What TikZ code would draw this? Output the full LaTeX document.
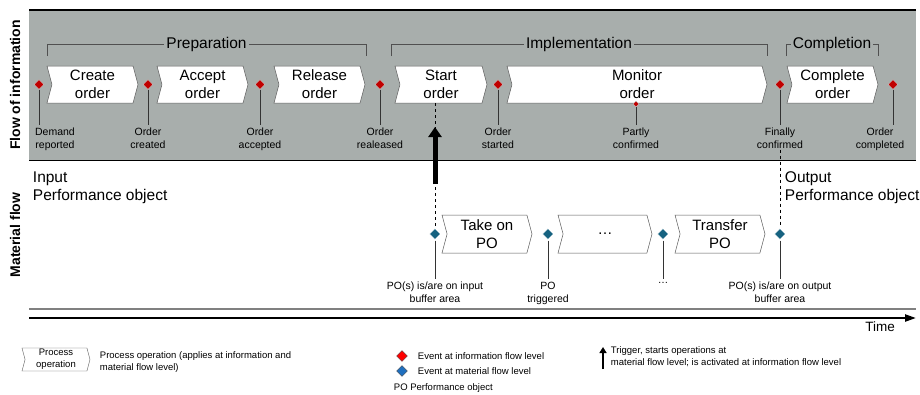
\documentclass[tikz,border=0pt]{standalone}
\usepackage{fontspec}
\setmainfont{Liberation Sans}
\usetikzlibrary{shapes.symbols,shapes.geometric,arrows.meta}

\definecolor{bandgray}{RGB}{168,174,172}
\definecolor{infored}{RGB}{192,0,0}
\definecolor{matblue}{RGB}{22,98,128}
\definecolor{legred}{RGB}{255,0,0}
\definecolor{legblue}{RGB}{31,111,191}
\definecolor{bracketgray}{RGB}{80,80,80}

\tikzset{
  procop/.style={signal, signal from=west, signal to=east, signal pointer angle=150,
    draw=gray!70!black, fill=white, line width=0.5pt, inner sep=0pt,
    minimum height=37, align=center, font=\fontsize{15}{18}\selectfont},
  evinfo/.style={diamond, fill=infored, draw=white!60!gray, line width=0.4pt,
    inner sep=0pt, minimum width=10, minimum height=10},
  evmat/.style={diamond, fill=matblue, draw=white, line width=1pt,
    inner sep=0pt, minimum width=12, minimum height=12},
  evlabel/.style={anchor=north, align=center, inner sep=0.75pt,
    font=\fontsize{10.5}{13}\selectfont},
  evline/.style={draw=black!80, line width=0.7pt},
  phase/.style={draw=bracketgray, line width=0.8pt},
  phasetext/.style={fill=bandgray, inner sep=2pt, font=\fontsize{15.5}{18}\selectfont},
  sidetext/.style={rotate=90, font=\bfseries\fontsize{14}{16}\selectfont},
  pobject/.style={anchor=north west, align=left, inner sep=0.75pt,
    font=\fontsize{15.5}{18}\selectfont},
  legtext/.style={anchor=west, align=left, inner sep=0.75pt,
    font=\fontsize{9.5}{12}\selectfont},
}

\begin{document}
\begin{tikzpicture}[x=1pt,y=1pt,yscale=-1,xscale=1]
\useasboundingbox (0,0) rectangle (920,394);

%Shape: information band
\fill[bandgray] (29,10) rectangle (916,160);
\draw[line width=1.8pt] (29,10) -- (916,10);
\draw[line width=1.8pt] (29,160.5) -- (916,160.5);
%Straight Lines: bottom border and time axis
\draw[gray, line width=1.2pt] (29,309) -- (916,309);
\draw[line width=2.2pt, -{Triangle[length=11,width=7]}] (29,318) -- (916,318);

% Text Node
\node[sidetext] (flowinfo) at (15,85) {Flow of information};
\node[sidetext] (flowmat) at (15,235) {Material flow};
\node[anchor=north, inner sep=0.75pt, font=\fontsize{13.5}{16}\selectfont] (time) at (880,321) {Time};

%Phase brackets
\draw[phase] (47,56) |- (366,44) -- (366,56);
\node[phasetext] (prep) at (206.5,44) {Preparation};
\draw[phase] (391,56) |- (767,44) -- (767,56);
\node[phasetext] (impl) at (579,44) {Implementation};
\draw[phase] (786,56) |- (878,44) -- (878,56);
\node[phasetext] (compl) at (832,44) {Completion};

%Process operations, information flow
\node[procop, minimum width=91] (create) at (92.5,84.5) {Create\\order};
\node[procop, minimum width=91] (accept) at (202.5,84.5) {Accept\\order};
\node[procop, minimum width=91] (release) at (319.5,84.5) {Release\\order};
\node[procop, minimum width=92] (start) at (441,84.5) {Start\\order};
\node[procop, minimum width=260] (monitor) at (637,84.5) {Monitor\\order};
\node[procop, minimum width=91] (complete) at (832.5,84.5) {Complete\\order};

%Events, information flow
\node[evinfo] (ev1) at (39,84.5) {};
\node[evinfo] (ev2) at (148,84.5) {};
\node[evinfo] (ev3) at (260,84.5) {};
\node[evinfo] (ev4) at (380,84.5) {};
\node[evinfo] (ev5) at (498,84.5) {};
\node[evinfo, minimum width=6, minimum height=6] (ev6) at (636,104) {};
\node[evinfo] (ev7) at (780,84.5) {};
\node[evinfo] (ev8) at (893,84.5) {};

% Text Node
\node[evlabel] (lab1) at (55,127) {Demand\\reported};
\node[evlabel] (lab2) at (148,127) {Order\\created};
\node[evlabel] (lab3) at (260,127) {Order\\accepted};
\node[evlabel] (lab4) at (380,127) {Order\\realeased};
\node[evlabel] (lab5) at (498,127) {Order\\started};
\node[evlabel] (lab6) at (636,127) {Partly\\confirmed};
\node[evlabel] (lab7) at (780,127) {Finally\\confirmed};
\node[evlabel] (lab8) at (880,127) {Order\\completed};

\foreach \i in {1,...,8}
  \draw[evline] (ev\i) -- ([yshift=-2pt]ev\i |- lab\i.north);

% Text Node
\node[pobject] (input) at (32,171) {Input\\Performance object};
\node[pobject] (output) at (784,171) {Output\\Performance object};

%Process operations, material flow
\node[procop, minimum width=90, minimum height=38] (takeon) at (487,234) {Take on\\PO};
\node[procop, minimum width=94, minimum height=38] (further) at (605,234) {\dots};
\node[procop, minimum width=90, minimum height=38] (transfer) at (720,234) {Transfer\\PO};

%Events, material flow
\node[evmat] (mev1) at (435,234) {};
\node[evmat] (mev2) at (548,234) {};
\node[evmat] (mev3) at (663,234) {};
\node[evmat] (mev4) at (780,234) {};

% Text Node
\node[evlabel] (mlab1) at (435,281) {PO(s) is/are on input\\buffer area};
\node[evlabel] (mlab2) at (548,281) {PO\\triggered};
\node[evlabel] (mlab3) at (663,281) {\dots};
\node[evlabel] (mlab4) at (780,281) {PO(s) is/are on output\\buffer area};

\foreach \i in {1,...,4}
  \draw[evline] (mev\i) -- ([yshift=-2pt]mev\i.center |- mlab\i.north);

%Trigger and output links
\draw[dashed, line width=0.7pt] (mev1 |- start.south) -- (mev1);
\draw[dashed, line width=0.7pt] (lab7.south) -- (mev4);
\coordinate (trigfoot) at (435,184);
\draw[line width=5pt, -{Triangle[length=10,width=13]}] (trigfoot) -- (trigfoot |- 0,127);

%Legend
\node[procop, minimum width=68, minimum height=23, line width=0.4pt,
  font=\fontsize{9.5}{12}\selectfont] (legproc) at (56,359.5) {Process\\operation};
\node[legtext] (legproctext) at (99,362) {Process operation (applies at information and\\material flow level)};
\node[diamond, fill=legred, draw=black!70, line width=0.4pt, inner sep=0pt,
  minimum width=11, minimum height=11] (legred) at (402,356) {};
\node[legtext] (legredtext) at (417,356) {Event at information flow level};
\node[diamond, fill=legblue, draw=black!70, line width=0.4pt, inner sep=0pt,
  minimum width=11, minimum height=11] (legblue) at (402,371) {};
\node[legtext] (legbluetext) at (417,371) {Event at material flow level};
\node[legtext] (legpo) at (393,388) {PO Performance object};
\coordinate (legtrig) at (603,369);
\draw[line width=2.3pt, -{Triangle[length=6,width=7]}] (legtrig) -- (603,347);
\node[legtext] (legtrigtext) at (610,357) {Trigger, starts operations at\\material flow level; is activated at information flow level};

\end{tikzpicture}
\end{document}
